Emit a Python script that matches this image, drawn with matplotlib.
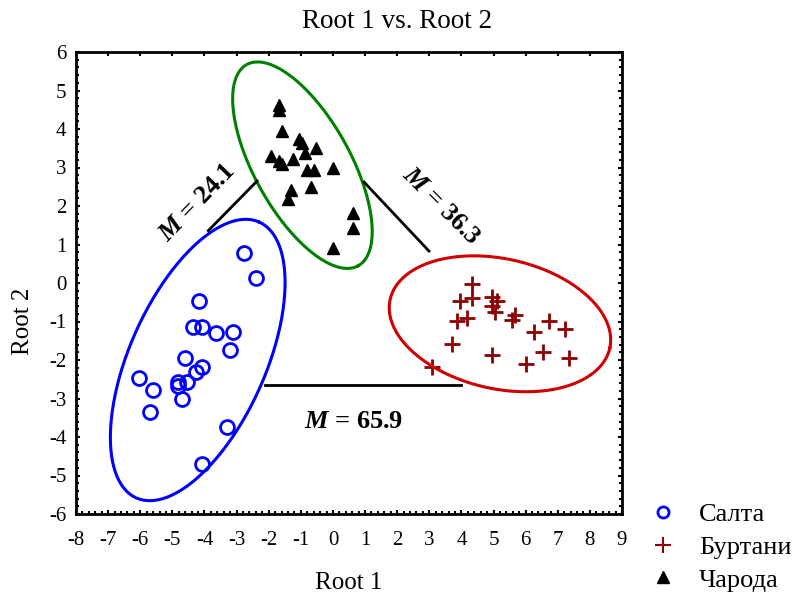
import numpy as np
import matplotlib
matplotlib.use("Agg")
import matplotlib.pyplot as plt
from matplotlib.lines import Line2D
from matplotlib.ticker import MultipleLocator

plt.rcParams['font.family'] = ['Liberation Serif', 'DejaVu Serif']
plt.rcParams['axes.unicode_minus'] = False
plt.rcParams['mathtext.fontset'] = 'custom'
plt.rcParams['mathtext.it'] = 'Liberation Serif:style=italic:weight=bold'

# Салта (root 1, root 2)
salta_x = [-2.76, -2.41, -4.17, -4.35, -4.08, -3.65, -3.12, -3.21, -4.62, -4.08,
           -4.27, -4.53, -4.81, -4.81, -4.71, -6.03, -5.60, -5.69, -3.30, -4.09]
salta_y = [0.78, 0.12, -0.47, -1.14, -1.14, -1.29, -1.28, -1.73, -1.95, -2.17,
           -2.32, -2.56, -2.56, -2.67, -3.00, -2.47, -2.77, -3.36, -3.73, -4.70]
# Буртани
burt_x = [4.34, 3.96, 4.34, 4.96, 5.10, 4.96, 5.04, 3.87, 4.16, 5.67,
          5.57, 6.72, 6.27, 7.24, 3.71, 6.54, 4.96, 6.01, 7.34, 3.08]
burt_y = [-0.03, -0.47, -0.40, -0.37, -0.47, -0.60, -0.76, -0.99, -0.92, -0.83,
          -0.96, -0.98, -1.27, -1.20, -1.58, -1.80, -1.87, -2.10, -1.96, -2.17]
# Чарода
charoda_x = [-1.67, -1.67, -1.59, -1.06, -0.96, -0.52, -0.87, -1.94, -1.24, -1.67,
             -1.58, -0.80, -0.60, 0.01, -0.69, -1.32, -1.39, 0.63, 0.63, 0.01]
charoda_y = [4.62, 4.50, 3.96, 3.73, 3.64, 3.51, 3.38, 3.29, 3.21, 3.16,
             3.08, 2.94, 2.94, 3.00, 2.49, 2.42, 2.18, 1.81, 1.44, 0.92]

group_names = ['Салта', 'Буртани', 'Чарода']
# ellipse: centre (data), semi-axes on screen, tilt on screen (deg)
ell_centre = [(-4.21, -2.00), (5.20, -1.06), (-0.95, 3.06)]
ell_axes = [(151, 68), (112.5, 65), (115, 48)]
ell_angle = [66, -12.5, -61]
ell_color = ['#0000ff', '#d00000', '#008000']

# distances between groups
m_labels = ['$M$ = 24.1', '$M$ = 36.3', '$M$ = 65.9']
m_lines = [((-3.88, 1.36), (-2.36, 2.65)),
           ((0.97, 2.62), (2.99, 0.83)),
           ((-2.10, -2.65), (3.98, -2.65))]
m_text_pos = [(-4.22, 2.10), (3.38, 2.01), (0.63, -3.60)]
m_text_rot = [46, -45, 0]

fig = plt.figure(figsize=(7.94, 5.96), dpi=100)
ax = fig.add_axes([76 / 794, 82 / 596, 546 / 794, 462 / 596])
ax.set_xlim(-8, 9)
ax.set_ylim(-6, 6)

ax.plot(salta_x, salta_y, 'o', ls='none', mfc='none', mec='#0000ff', ms=10, mew=2)
ax.plot(burt_x, burt_y, '+', ls='none', color='#8b0000', ms=11, mew=2)
ax.plot(charoda_x, charoda_y, '^', ls='none', color='black', ms=9)

# ellipses drawn on screen scale, then mapped back into data
t = np.linspace(0, 2 * np.pi, 300)
for (cx, cy), (a, b), ang, col in zip(ell_centre, ell_axes, ell_angle, ell_color):
    th = np.deg2rad(ang)
    px, py = ax.transData.transform((cx, cy))
    ex = px + a * np.cos(t) * np.cos(th) - b * np.sin(t) * np.sin(th)
    ey = py + a * np.cos(t) * np.sin(th) + b * np.sin(t) * np.cos(th)
    pts = ax.transData.inverted().transform(np.column_stack([ex, ey]))
    ax.plot(pts[:, 0], pts[:, 1], color=col, lw=2.2)

for (p0, p1), lab, pos, rot in zip(m_lines, m_labels, m_text_pos, m_text_rot):
    ax.plot([p0[0], p1[0]], [p0[1], p1[1]], color='black', lw=2)
    ax.text(pos[0], pos[1], lab, rotation=rot, ha='center', va='center',
            fontsize=19, fontweight='bold', rotation_mode='anchor')

ax.xaxis.set_major_locator(MultipleLocator(1))
ax.yaxis.set_major_locator(MultipleLocator(1))
ax.xaxis.set_minor_locator(MultipleLocator(0.2))
ax.yaxis.set_minor_locator(MultipleLocator(0.2))
ax.tick_params(which='both', direction='in', top=True, right=True, labelsize=15, width=1.5)
ax.tick_params(which='major', length=3)
ax.tick_params(which='minor', length=2, top=False)
ax.tick_params(axis='x', pad=12)
ax.tick_params(axis='y', pad=7)
for sp in ax.spines.values():
    sp.set_linewidth(2)

ax.set_xlabel('Root 1', fontsize=18)
ax.set_ylabel('Root 2', fontsize=18)
ax.xaxis.set_label_coords(0.5, -0.125)
ax.yaxis.set_label_coords(-0.077, 0.416)
fig.text(0.5, 1 - 22 / 596, 'Root 1 vs. Root 2', ha='center', va='center', fontsize=19.5)

handles = [Line2D([], [], marker='o', ls='none', mfc='none', mec='#0000ff', ms=8, mew=2),
           Line2D([], [], marker='+', ls='none', color='#8b0000', ms=11, mew=1.5),
           Line2D([], [], marker='^', ls='none', color='black', ms=8)]
fig.legend(handles, group_names, loc='center left', bbox_to_anchor=(650 / 794, 1 - 547 / 596),
           frameon=False, fontsize=19, handlelength=1.0, handletextpad=0.85,
           labelspacing=0.36, borderpad=0, borderaxespad=0)

fig.savefig('out.png', dpi=100)
